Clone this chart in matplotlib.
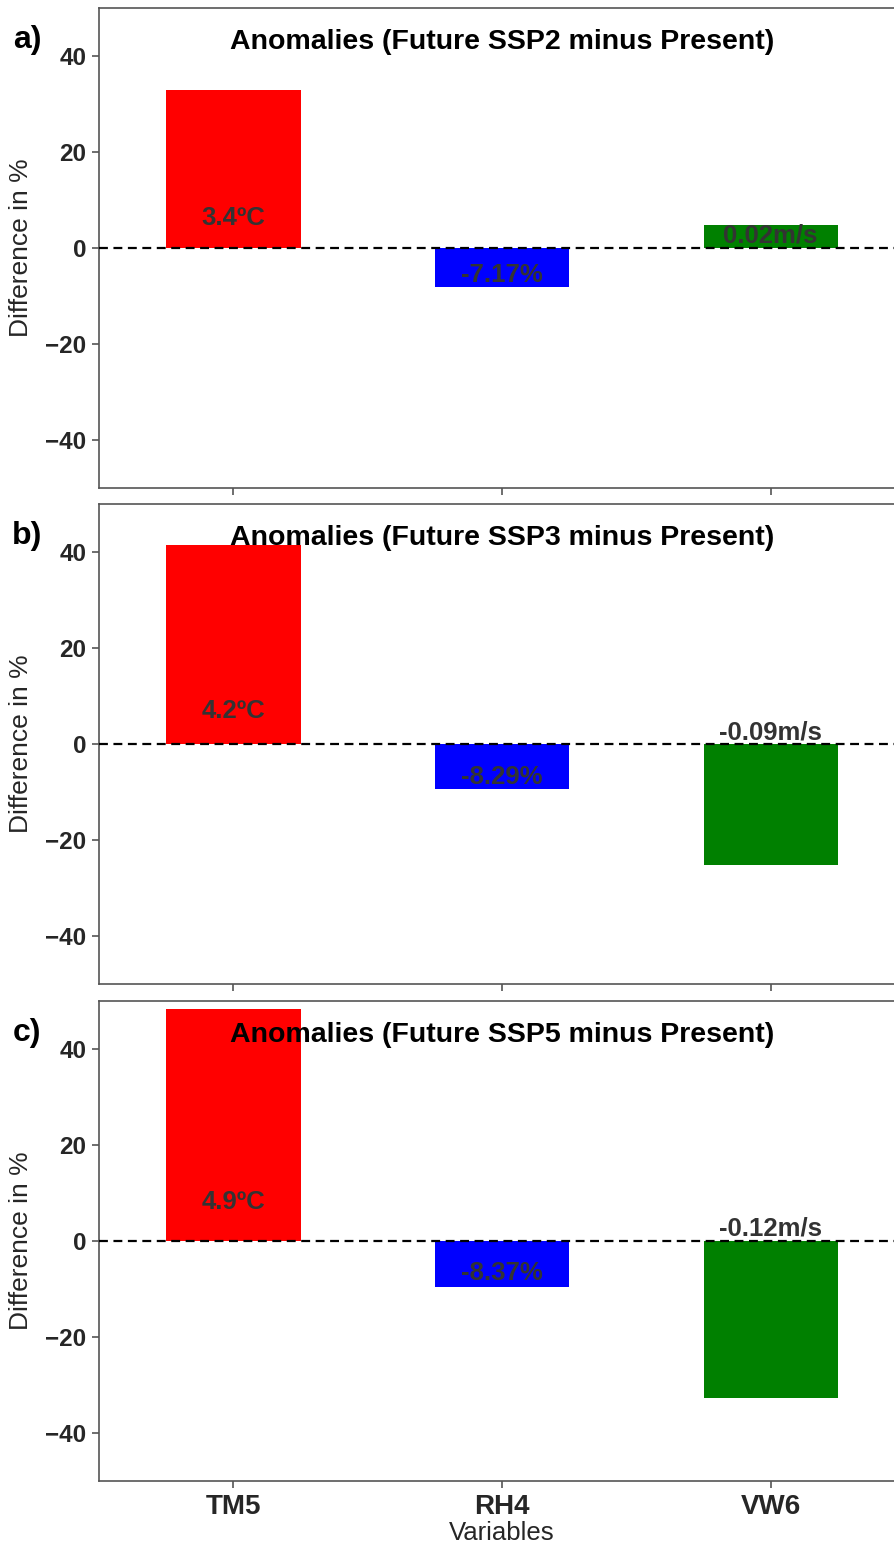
import matplotlib
matplotlib.use("Agg")
import matplotlib.pyplot as plt

plt.rcParams['font.family'] = ['Liberation Sans', 'DejaVu Sans']

categories = ['TM5', 'RH4', 'VW6']
bar_colors = ['red', 'blue', 'green']

scenarios = ['SSP2', 'SSP3', 'SSP5']
panel_tags = ['a)', 'b)', 'c)']

ssp2_values = [32.9, -8.1, 4.8]
ssp3_values = [41.5, -9.4, -25.2]
ssp5_values = [48.3, -9.6, -32.7]

ssp2_labels = ['3.4ºC', '-7.17%', '0.02m/s']
ssp3_labels = ['4.2ºC', '-8.29%', '-0.09m/s']
ssp5_labels = ['4.9ºC', '-8.37%', '-0.12m/s']

# vertical (data) placement of the annotation text in each panel
ssp2_label_y = [6.3, -5.6, 2.7]
ssp3_label_y = [6.9, -6.9, 2.5]
ssp5_label_y = [8.1, -6.7, 2.7]

values = [ssp2_values, ssp3_values, ssp5_values]
labels = [ssp2_labels, ssp3_labels, ssp5_labels]
label_y = [ssp2_label_y, ssp3_label_y, ssp5_label_y]

W, H = 895, 1542
fig = plt.figure(figsize=(W / 100, H / 100), dpi=100)

# axes boxes in pixels (top, bottom)
boxes = [(8, 488), (504, 984), (1001, 1481)]
left_px, right_px = 99, 905

text_col = '#262626'
spine_col = '#555555'

for i, (top, bot) in enumerate(boxes):
    ax = fig.add_axes([left_px / W, 1 - bot / H, (right_px - left_px) / W, (bot - top) / H])
    x = list(range(len(categories)))
    ax.bar(x, values[i], width=0.5, color=bar_colors, edgecolor='none', zorder=2)
    ax.axhline(0, color='black', linestyle='--', linewidth=1.6, dashes=(4, 2.5), zorder=3)
    for xi, lab, ly in zip(x, labels[i], label_y[i]):
        ax.text(xi, ly, lab, ha='center', va='center', fontsize=18.5, fontweight='bold',
                color='#333333', zorder=4)
    ax.set_xlim(-0.5, 2.5)
    ax.set_ylim(-50, 50)
    ax.set_yticks([-40, -20, 0, 20, 40])
    ax.set_xticks(x)
    if i == 2:
        ax.set_xticklabels(categories, fontsize=20, fontweight='bold', color=text_col)
        ax.set_xlabel('Variables', fontsize=18.5, color=text_col, labelpad=1)
    else:
        ax.set_xticklabels([])
    for lbl in ax.get_yticklabels():
        lbl.set_fontsize(17.5)
        lbl.set_fontweight('bold')
        lbl.set_color(text_col)
    ax.set_ylabel('Difference in %', fontsize=19, color=text_col)
    ax.yaxis.set_label_coords(-0.082, 0.5)
    ax.tick_params(axis='both', direction='out', length=5, width=1.2, color=spine_col, pad=4)
    for s in ax.spines.values():
        s.set_color(spine_col)
        s.set_linewidth(1.2)
    ax.text(0.5, 0.93, f'Anomalies (Future {scenarios[i]} minus Present)',
            transform=ax.transAxes, ha='center', va='center', fontsize=20.5,
            fontweight='bold', color='black', zorder=5)
    fig.text(27 / W, 1 - (top + 32) / H, panel_tags[i], ha='center', va='center',
             fontsize=23, fontweight='bold', color='black')

fig.savefig('out.png', dpi=100)
